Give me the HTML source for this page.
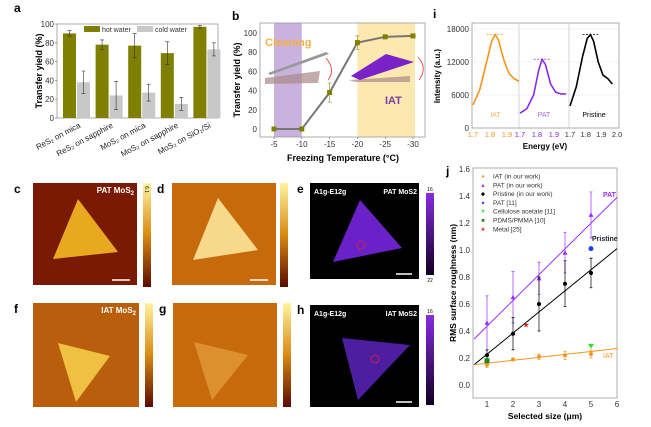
<!DOCTYPE html>
<html><head><meta charset="utf-8"><style>
body{margin:0;background:#fff}
svg{display:block;font-family:"Liberation Sans",sans-serif}
.t{font-size:8px;fill:#333}
.b{font-weight:bold}
</style></head><body>
<svg id="s" width="651" height="427" viewBox="0 0 651 427">
<defs>
<linearGradient id="gTop" x1="0" y1="0" x2="0" y2="1"><stop offset="0" stop-color="#fff4a0"/><stop offset="0.5" stop-color="#d98a10"/><stop offset="1" stop-color="#5a0a00"/></linearGradient>
<linearGradient id="gPh" x1="0" y1="0" x2="0" y2="1"><stop offset="0" stop-color="#fff4a0"/><stop offset="0.5" stop-color="#d98a10"/><stop offset="1" stop-color="#5a0a00"/></linearGradient>
<linearGradient id="gPu" x1="0" y1="0" x2="0" y2="1"><stop offset="0" stop-color="#8a2be2"/><stop offset="1" stop-color="#100020"/></linearGradient>
</defs>
<g id="pa"></g>
<g id="pb"></g>
<g id="pi"></g>
<g id="pj"></g>
<g id="imgs">
<text x="14" y="193" font-size="12" class="b">c</text>
<rect x="33" y="183" width="104" height="102" fill="#7a1a04"/>
<polygon points="78,199 118,252 53,259" fill="#e8a820"/>
<text x="134" y="193" font-size="8" fill="#fff" class="b" text-anchor="end">PAT MoS<tspan font-size="6" dy="2">2</tspan></text>
<line x1="112" y1="280" x2="130" y2="280" stroke="#fff" stroke-width="1.5"/>
<rect x="143" y="183" width="8" height="104" fill="url(#gTop)"/>
<text x="145" y="186" font-size="5" transform="rotate(90 145 186)">6.1</text>

<text x="157" y="193" font-size="12" class="b">d</text>
<rect x="172" y="183" width="104" height="102" fill="#c76a0c"/>
<polygon points="218,198 258,250 193,260" fill="#f6d98a"/>
<line x1="250" y1="280" x2="268" y2="280" stroke="#fff" stroke-width="1.5"/>
<rect x="280" y="183" width="8" height="104" fill="url(#gPh)"/>

<text x="297" y="193" font-size="12" class="b">e</text>
<rect x="310" y="183" width="109" height="96" fill="#000"/>
<polygon points="360,200 402,248 333,262" fill="#6a22c8"/>
<circle cx="361" cy="245" r="4" fill="none" stroke="#e02040" stroke-width="0.8"/>
<text x="314" y="194" font-size="7" fill="#fff" class="b">A1g-E12g</text>
<text x="417" y="194" font-size="7" fill="#fff" class="b" text-anchor="end">PAT MoS2</text>
<line x1="396" y1="274" x2="412" y2="274" stroke="#fff" stroke-width="1.5"/>
<rect x="426" y="193" width="8" height="82" fill="url(#gPu)"/>
<text x="430" y="191" font-size="5" text-anchor="middle">16</text>
<text x="430" y="282" font-size="5" text-anchor="middle">22</text>

<text x="14" y="313" font-size="12" class="b">f</text>
<rect x="33" y="303" width="106" height="104" fill="#b85e0c"/>
<polygon points="58,343 110,356 76,402" fill="#f0c040"/>
<text x="136" y="313" font-size="8" fill="#fff" class="b" text-anchor="end">IAT MoS<tspan font-size="6" dy="2">2</tspan></text>
<rect x="145" y="303" width="8" height="104" fill="url(#gTop)"/>

<text x="159" y="313" font-size="12" class="b">g</text>
<rect x="173" y="303" width="104" height="104" fill="#c76a0c"/>
<polygon points="194,342 248,355 212,400" fill="#dc9030"/>
<rect x="283" y="303" width="8" height="104" fill="url(#gPh)"/>

<text x="297" y="314" font-size="12" class="b">h</text>
<rect x="310" y="305" width="109" height="102" fill="#000"/>
<polygon points="342,338 410,345 358,400" fill="#4e1ea0"/>
<circle cx="375" cy="359" r="4" fill="none" stroke="#e02040" stroke-width="0.8"/>
<text x="314" y="316" font-size="7" fill="#fff" class="b">A1g-E12g</text>
<text x="417" y="316" font-size="7" fill="#fff" class="b" text-anchor="end">IAT MoS2</text>
<line x1="396" y1="402" x2="412" y2="402" stroke="#fff" stroke-width="1.5"/>
<rect x="426" y="315" width="8" height="90" fill="url(#gPu)"/>
<text x="430" y="313" font-size="5" text-anchor="middle">16</text>
</g>
</svg>
<script>
// ---- Panel a data
const aCats=["ReS\u2082 on mica","ReS\u2082 on sapphire","MoS\u2082 on mica","MoS\u2082 on sapphire","MoS\u2082 on SiO\u2082/Si"];
const aHot=[90,78,77,69,97];
const aHotErr=[3,5,13,12,1.5];
const aCold=[38,24,27,15,73];
const aColdErr=[12,15,9,7,7];
const aTicks=[0,20,40,60,80,100];
// ---- Panel b data
const bTemps=[-5,-10,-15,-20,-25,-30];
const bYield=[0,0,38,90,96,97];
const bErr=[0,0,10,7,0,0];
const bTicks=[0,20,40,60,80,100];
// ---- Panel i data
const iEnergy=[1.70,1.74,1.78,1.81,1.83,1.85,1.88,1.91,1.94,1.97];
const iIAT=[4200,7000,12000,15800,17000,16000,12500,10000,9000,8500];
const iPAT=[2700,3500,6000,10500,12500,11500,8000,6500,6200,6200];
const iPristine=[4000,7500,13000,16300,17000,15800,12000,9600,9000,8000];
const iTicks=[0,6000,12000,18000];
const iXTicks=[1.7,1.8,1.9];
// ---- Panel j data
const jSize=[1,2,3,4,5];
const jIAT=[0.15,0.19,0.21,0.22,0.23];
const jIATErr=[0.02,0.01,0.02,0.03,0.03];
const jPAT=[0.46,0.65,0.79,0.98,1.26];
const jPATErr=[0.20,0.19,0.12,0.15,0.17];
const jPris=[0.22,0.38,0.60,0.75,0.83];
const jPrisErr=[0.04,0.12,0.20,0.17,0.11];
const jRef=[{x:5,y:1.01},{x:5,y:0.29},{x:1,y:0.18},{x:2.5,y:0.45}];
const jFitPAT=[0.34,1.39];
const jFitPris=[0.15,1.01];
const jFitIAT=[0.15,0.27];
const jYTicks=[0,0.2,0.4,0.6,0.8,1.0,1.2,1.4,1.6];
const jXTicks=[1,2,3,4,5,6];

const NS="http://www.w3.org/2000/svg";
function mk(p,tag,at,txt){const e=document.createElementNS(NS,tag);for(const k in at)e.setAttribute(k,at[k]);if(txt!==undefined)e.textContent=txt;p.appendChild(e);return e;}

// ===== Panel a
(function(){
const g=document.getElementById('pa');
const L=57,R=218,T=24,B=118;
const y=v=>B-(v/100)*(B-T);
const cx=i=>L+20+i*32.6;
let e=mk(g,'text',{x:14,y:12,'font-size':12,'font-weight':'bold'},'a');

e=mk(g,'rect',{x:L,y:T,width:R-L,height:B-T,fill:'none',stroke:'#999','stroke-width':0.8});

aTicks.forEach(t=>{
 e=mk(g,'text',{x:L-3,y:y(t)+3,'text-anchor':'end',class:'t'},t);
 
 mk(g,'line',{x1:L-2,x2:L,y1:y(t),y2:y(t),stroke:'#666','stroke-width':0.6});
});
aCats.forEach((c,i)=>{
 const x=cx(i);
 e=mk(g,'rect',{x:x-14,y:y(aHot[i]),width:13,height:B-y(aHot[i]),fill:'#7f7f00'});
 
 e=mk(g,'rect',{x:x,y:y(aCold[i]),width:13,height:B-y(aCold[i]),fill:'#c8c8c8'});
 
 [[x-7.5,aHot[i],aHotErr[i]],[x+6.5,aCold[i],aColdErr[i]]].forEach(([ex,v,er])=>{
  e=mk(g,'path',{d:`M${ex},${y(v+er)}V${y(v-er)}M${ex-2},${y(v+er)}h4M${ex-2},${y(v-er)}h4`,stroke:'#333','stroke-width':0.6,fill:'none'});
  
 });
 e=mk(g,'text',{x:x+4,y:B+9,'text-anchor':'end','font-size':8,fill:'#222',transform:`rotate(-28 ${x+4} ${B+9})`},c);
 
});
e=mk(g,'text',{x:42,y:71,'text-anchor':'middle','font-size':9,'font-weight':'bold',transform:'rotate(-90 42 71)'},'Transfer yield (%)');

e=mk(g,'rect',{x:84,y:26,width:16,height:6,fill:'#7f7f00'});

e=mk(g,'text',{x:102,y:32,'font-size':7,fill:'#333'},'hot water');

e=mk(g,'rect',{x:137,y:26,width:16,height:6,fill:'#c8c8c8'});

e=mk(g,'text',{x:155,y:32,'font-size':7,fill:'#333'},'cold water');

})();

// ===== Panel b
(function(){
const g=document.getElementById('pb');
const L=260,R=425,T=23,B=137;
const x=t=>274+((-t)-5)/5*27.8;
const y=v=>129-v/100*96;
let e=mk(g,'text',{x:232,y:20,'font-size':12,'font-weight':'bold'},'b');

e=mk(g,'rect',{x:x(-5),y:T,width:x(-10)-x(-5),height:B-T,fill:'#c9b2dd'});

e=mk(g,'rect',{x:x(-20),y:T,width:x(-30)+2-x(-20),height:B-T,fill:'#fde9b0'});

e=mk(g,'rect',{x:L,y:T,width:R-L,height:B-T,fill:'none',stroke:'#999','stroke-width':0.8});

bTicks.forEach(t=>{
 e=mk(g,'text',{x:L-3,y:y(t)+3,'text-anchor':'end',class:'t'},t);
 
});
bTemps.forEach(t=>{
 e=mk(g,'text',{x:x(t),y:B+10,'text-anchor':'middle',class:'t'},t);
 
 mk(g,'line',{x1:x(t),x2:x(t),y1:B,y2:B+2,stroke:'#666','stroke-width':0.6});
});
e=mk(g,'polygon',{points:'265,78 320,71 318,83 265,84',fill:'#a88','opacity':0.7});

e=mk(g,'polygon',{points:'268,73 326,52 329,54 270,75',fill:'#999'});

e=mk(g,'polygon',{points:'349,80 410,76 410,82 355,82',fill:'#a88','opacity':0.7});

e=mk(g,'polygon',{points:'351,76 386,54 414,62 360,80',fill:'#7a22c8'});

e=mk(g,'path',{d:'M326,58 Q336,70 328,80',stroke:'#e33',fill:'none','stroke-width':0.8});

e=mk(g,'path',{d:'M418,57 Q428,68 419,80',stroke:'#e33',fill:'none','stroke-width':0.8});

e=mk(g,'text',{x:265,y:46,'font-size':11,'font-weight':'bold',fill:'#f5b041'},'Cleaning');

e=mk(g,'text',{x:385,y:104,'font-size':11,'font-weight':'bold',fill:'#7a3fa0'},'IAT');

let d=bTemps.map((t,i)=>(i?'L':'M')+x(t)+','+y(bYield[i])).join('');
e=mk(g,'path',{d:d,stroke:'#777',fill:'none','stroke-width':2});

bTemps.forEach((t,i)=>{
 if(bErr[i]){e=mk(g,'path',{d:`M${x(t)},${y(bYield[i]+bErr[i])}V${y(bYield[i]-bErr[i])}M${x(t)-2},${y(bYield[i]+bErr[i])}h4M${x(t)-2},${y(bYield[i]-bErr[i])}h4`,stroke:'#9a9a30','stroke-width':0.7,fill:'none'});
 }
 e=mk(g,'rect',{x:x(t)-2.5,y:y(bYield[i])-2.5,width:5,height:5,fill:'#7f7f00'});
 
});
e=mk(g,'text',{x:240,y:80,'text-anchor':'middle','font-size':9,'font-weight':'bold',transform:'rotate(-90 240 80)'},'Transfer yield (%)');

e=mk(g,'text',{x:343,y:161,'text-anchor':'middle','font-size':9,'font-weight':'bold'},'Freezing Temperature (\u00B0C)');

})();

// ===== Panel i
(function(){
const g=document.getElementById('pi');
const L=472,R=619,T=23,B=128;
const y=v=>B-v/18000*99;
const subs=[[472,519,'#f7931e','IAT',iIAT],[519,569,'#8a2be2','PAT',iPAT],[569,619,'#000','Pristine',iPristine]];
let e=mk(g,'text',{x:433,y:18,'font-size':12,'font-weight':'bold'},'i');

iTicks.forEach(t=>{
 e=mk(g,'text',{x:L-3,y:y(t)+3,'text-anchor':'end',class:'t'},t);
 
 if(t>0)mk(g,'line',{x1:L,x2:R,y1:y(t),y2:y(t),stroke:'#ccc','stroke-width':0.5,'stroke-dasharray':'1,1'});
});
e=mk(g,'rect',{x:L,y:T,width:R-L,height:B-T,fill:'none',stroke:'#999','stroke-width':0.8});

subs.forEach(([a,b,col,name,vals],k)=>{
 const x=v=>a+1+(v-1.7)/0.1*(k==2?15.7:17);
 if(k>0)mk(g,'line',{x1:a,x2:a,y1:T,y2:B,stroke:'#bbb','stroke-width':0.6});
 const d=iEnergy.map((v,i)=>(i?'L':'M')+x(v)+','+y(vals[i])).join('');
 e=mk(g,'path',{d:d,stroke:col,fill:'none','stroke-width':1.6,'stroke-linejoin':'round'});
 
 const pk=Math.max(...vals);
 e=mk(g,'line',{x1:x(1.78),x2:x(1.88),y1:y(pk),y2:y(pk),stroke:col,'stroke-dasharray':'2,1.5','stroke-width':0.8});
 
 e=mk(g,'text',{x:(a+b)/2,y:117,'text-anchor':'middle','font-size':7,fill:col,opacity:k==2?1:0.7},name);
 
 const xt=k==2?[1.7,1.8,1.9,2.0]:iXTicks;
 xt.forEach(t=>{
  e=mk(g,'text',{x:x(t),y:B+9,'text-anchor':'middle','font-size':7.5,fill:col==='#000'?'#333':col},t.toFixed(1));
  
 });
});
e=mk(g,'text',{x:440,y:76,'text-anchor':'middle','font-size':8,'font-weight':'bold',transform:'rotate(-90 440 76)'},'Intensity (a.u.)');

e=mk(g,'text',{x:545,y:149,'text-anchor':'middle','font-size':8,'font-weight':'bold'},'Energy (eV)');

})();

// ===== Panel j
(function(){
const g=document.getElementById('pj');
const L=473,R=617,T=168,B=398;
const x=v=>487+(v-1)*26;
const y=v=>385-v/0.2*27;
let e=mk(g,'text',{x:446,y:175,'font-size':12,'font-weight':'bold'},'j');

e=mk(g,'rect',{x:L,y:T,width:R-L,height:B-T,fill:'none',stroke:'#999','stroke-width':0.8});

jYTicks.forEach(t=>{
 e=mk(g,'text',{x:L-3,y:y(t)+3,'text-anchor':'end',class:'t'},t.toFixed(1));
 
});
jXTicks.forEach(t=>{
 e=mk(g,'text',{x:x(t),y:B+9,'text-anchor':'middle',class:'t'},t);
 
});
[[jFitPAT,'#9b30ff','fit-line-pat'],[jFitPris,'#000','fit-line-pristine'],[jFitIAT,'#f7931e','fit-line-iat']].forEach(([f,c,n])=>{
 e=mk(g,'line',{x1:x(0.5),y1:y(f[0]),x2:x(6),y2:y(f[1]),stroke:c,'stroke-width':1});
 
});
function series(vals,err,col,n,shape){
 jSize.forEach((s,i)=>{
  e=mk(g,'path',{d:`M${x(s)},${y(vals[i]+err[i])}V${y(vals[i]-err[i])}M${x(s)-1.5},${y(vals[i]+err[i])}h3M${x(s)-1.5},${y(vals[i]-err[i])}h3`,stroke:col,'stroke-width':0.7,fill:'none'});
  
  const px=x(s),py=y(vals[i]);
  e=shape=='tri'?mk(g,'polygon',{points:`${px},${py-2.5} ${px+2.5},${py+2} ${px-2.5},${py+2}`,fill:col}):mk(g,'circle',{cx:px,cy:py,r:2,fill:col});
  
 });
}
series(jPAT,jPATErr,'#9b30ff','point-pat','tri');
series(jPris,jPrisErr,'#000','point-pristine','dot');
series(jIAT,jIATErr,'#f7931e','point-iat','dot');
const r=jRef;
e=mk(g,'circle',{cx:x(r[0].x),cy:y(r[0].y),r:2.5,fill:'#1f3fff'});

e=mk(g,'polygon',{points:`${x(r[1].x)-3},${y(r[1].y)-2} ${x(r[1].x)+3},${y(r[1].y)-2} ${x(r[1].x)},${y(r[1].y)+3}`,fill:'#2ee02e'});

e=mk(g,'rect',{x:x(r[2].x)-2.5,y:y(r[2].y)-2.5,width:5,height:5,fill:'#1a8a1a'});

e=mk(g,'text',{x:x(r[3].x),y:y(r[3].y)+3,'text-anchor':'middle','font-size':8,fill:'#e02020'},'\u2605');

const leg=[['IAT (in our work)','#f7931e','\u25CF'],['PAT (in our work)','#9b30ff','\u25B2'],['Pristine (in our work)','#000','\u25C6'],['PAT [11]','#1f3fff','\u25CF'],['Cellulose acetate [11]','#2ee02e','\u25BC'],['PDMS/PMMA [10]','#1a8a1a','\u25A0'],['Metal [25]','#e02020','\u2605']];
leg.forEach((l,i)=>{
 const yy=176+i*8.8;
 e=mk(g,'text',{x:483,y:yy+2,'text-anchor':'middle','font-size':5.5,fill:l[1]},l[2]);
 
 e=mk(g,'text',{x:493,y:yy+2.5,'font-size':6.5,fill:'#333'},l[0]);
 
});
e=mk(g,'text',{x:603,y:197,'font-size':7,fill:'#9b30ff','font-weight':'bold'},'PAT');

e=mk(g,'text',{x:592,y:241,'font-size':7,fill:'#223','font-weight':'bold'},'Pristine');

e=mk(g,'text',{x:603,y:358,'font-size':7,fill:'#f7931e'},'IAT');

e=mk(g,'text',{x:456,y:283,'text-anchor':'middle','font-size':8.5,'font-weight':'bold',transform:'rotate(-90 456 283)'},'RMS surface roughness (nm)');

e=mk(g,'text',{x:545,y:419,'text-anchor':'middle','font-size':8.5,'font-weight':'bold'},'Selected size (\u03BCm)');

})();
</script>
</body></html>
